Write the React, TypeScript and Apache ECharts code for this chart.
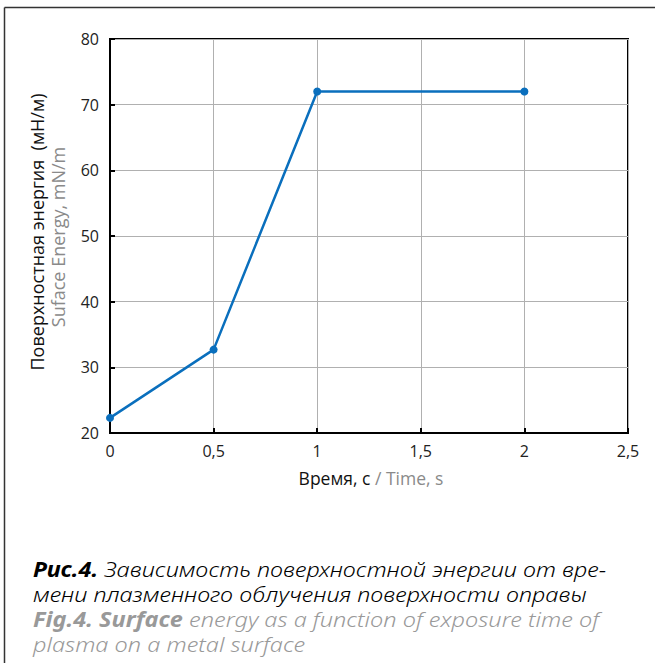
import React, { useEffect, useRef } from "react";
import * as echarts from "echarts";

const xValues = [0, 0.5, 1, 2];
const yValues = [22.3, 32.7, 72, 72];
const xTicks = ["0", "0,5", "1", "1,5", "2", "2,5"];
const yTitleRu = "Поверхностная энергия  (мН/м)";
const yTitleEn = "Suface Energy, mN/m";
const xTitleRu = "Время, с";
const xTitleEn = " / Time, s";
const captionRu1 = "Зависимость поверхностной энергии от вре-";
const captionRu2 = "мени плазменного облучения поверхности оправы";
const captionEn1 = "energy as a function of exposure time of";
const captionEn2 = "plasma on a metal surface";

export default function App() {
  const ref = useRef<HTMLDivElement>(null);
  useEffect(() => {
    if (!ref.current) return;
    const chart = echarts.init(ref.current, undefined, { renderer: "svg" });
    const capFont = "Noto Sans";
    const cs = 21;
    const lh = 21;
    const sx = 1.12;
    chart.setOption({
      animation: false,
      backgroundColor: "#fff",
      grid: { left: 110, top: 39, width: 518, height: 394, show: true, borderColor: "#000", borderWidth: 2 },
      xAxis: {
        type: "value",
        min: 0,
        max: 2.5,
        interval: 0.5,
        axisLine: { show: true, onZero: false, lineStyle: { color: "#000", width: 2 } },
        axisTick: { show: true, inside: true, length: 5, lineStyle: { color: "#000", width: 2 } },
        splitLine: { show: true, lineStyle: { color: "#b0b0b0", width: 1 } },
        axisLabel: {
          color: "#222",
          fontSize: 16,
          fontFamily: "Open Sans",
          margin: 10,
          formatter: (v: number) => xTicks[Math.round(v / 0.5)] ?? "",
        },
      },
      yAxis: {
        type: "value",
        min: 20,
        max: 80,
        interval: 10,
        axisLine: { show: true, lineStyle: { color: "#000", width: 2 } },
        axisTick: { show: true, inside: true, length: 5, lineStyle: { color: "#000", width: 2 } },
        splitLine: { show: true, lineStyle: { color: "#b0b0b0", width: 1 } },
        axisLabel: { color: "#222", fontSize: 16, fontFamily: "Open Sans", margin: 11 },
      },
      series: [
        {
          type: "line",
          data: xValues.map((x, i) => [x, yValues[i]]),
          symbol: "circle",
          symbolSize: 8,
          lineStyle: { color: "#0a6fbd", width: 2.5 },
          itemStyle: { color: "#0a6fbd" },
        },
      ],
      graphic: [
        { type: "line", shape: { x1: 4.5, y1: 7.5, x2: 655, y2: 7.5 }, style: { stroke: "#333", lineWidth: 1.5 } },
        { type: "line", shape: { x1: 4.5, y1: 7.5, x2: 4.5, y2: 663 }, style: { stroke: "#333", lineWidth: 1.5 } },
        {
          type: "text",
          x: 37,
          y: 232,
          rotation: Math.PI / 2,
          style: {
            text: yTitleRu,
            fill: "#111",
            font: "18px 'Open Sans'",
            align: "center",
            verticalAlign: "middle",
          },
        },
        {
          type: "text",
          x: 58,
          y: 237,
          rotation: Math.PI / 2,
          style: {
            text: yTitleEn,
            fill: "#8a8a8a",
            font: "18px 'Open Sans'",
            align: "center",
            verticalAlign: "middle",
          },
        },
        {
          type: "text",
          x: 371,
          y: 478,
          style: {
            text: "{a|" + xTitleRu + "}{b|" + xTitleEn + "}",
            align: "center",
            verticalAlign: "middle",
            rich: {
              a: { fill: "#111", font: "17.5px 'Open Sans'" },
              b: { fill: "#8a8a8a", font: "17.5px 'Open Sans'" },
            },
          },
        },
        {
          type: "text",
          x: 33,
          y: 569,
          scaleX: sx,
          style: {
            text: "{a|Рис.4.}{b| " + captionRu1 + "}",
            verticalAlign: "middle",
            rich: {
              a: { fill: "#000", font: "italic bold " + cs + "px '" + capFont + "'", lineHeight: lh },
              b: { fill: "#000", font: "italic 300 " + cs + "px '" + capFont + "'", lineHeight: lh },
            },
          },
        },
        {
          type: "text",
          x: 33,
          y: 594,
          scaleX: sx,
          style: { text: captionRu2, fill: "#000", font: "italic 300 " + cs + "px '" + capFont + "'", lineHeight: lh, verticalAlign: "middle" },
        },
        {
          type: "text",
          x: 33,
          y: 619,
          scaleX: sx,
          style: {
            text: "{a|Fig.4. Surface}{b| " + captionEn1 + "}",
            verticalAlign: "middle",
            rich: {
              a: { fill: "#999", font: "italic bold " + cs + "px '" + capFont + "'", lineHeight: lh },
              b: { fill: "#999", font: "italic 300 " + cs + "px '" + capFont + "'", lineHeight: lh },
            },
          },
        },
        {
          type: "text",
          x: 33,
          y: 644,
          scaleX: sx,
          style: { text: captionEn2, fill: "#999", font: "italic 300 " + cs + "px '" + capFont + "'", lineHeight: lh, verticalAlign: "middle" },
        },
      ],
    });
    return () => chart.dispose();
  }, []);
  return <div ref={ref} style={{ width: 655, height: 663, position: "fixed", left: 0, top: 0 }} />;
}
